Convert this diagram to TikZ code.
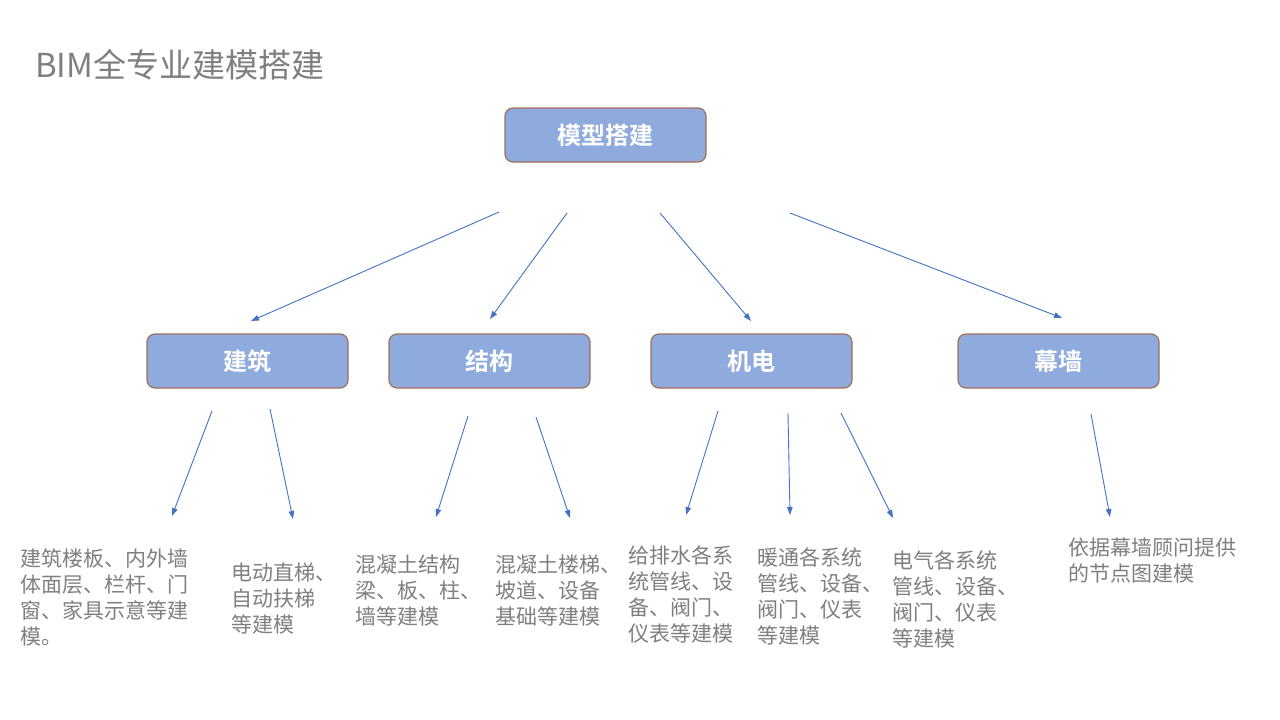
\documentclass[tikz,border=0pt]{standalone}
\usepackage{fontspec}
\setmainfont{Noto Sans CJK SC}
\newfontfamily\cjkbold{Noto Sans CJK SC Bold}
\usetikzlibrary{arrows.meta}
\definecolor{boxfill}{HTML}{8FAADC}
\definecolor{boxdraw}{HTML}{A0705A}
\definecolor{arrowblue}{HTML}{4472C4}
\definecolor{txtgray}{HTML}{7F7F7F}
\tikzset{
  mbox/.style={draw=boxdraw, line width=1.2pt, fill=boxfill, rounded corners=8pt,
    minimum width=201pt, minimum height=54pt, inner sep=0pt, text=white,
    font=\cjkbold\fontsize{24}{28}\selectfont},
  conn/.style={draw=arrowblue, line width=0.9pt, -{Triangle[length=8pt,width=5.5pt]}},
  desc/.style={anchor=base west, align=left, inner sep=0pt, text=txtgray,
    font=\fontsize{21}{26}\selectfont}
}
\begin{document}
\begin{tikzpicture}[x=1pt,y=-1pt]
\useasboundingbox (0,0) rectangle (1280,720);
\fill[white] (0,0) rectangle (1280,720);
\node[anchor=base west, inner sep=0pt, text=txtgray, font=\fontsize{33}{38}\selectfont] (title) at (35,77) {BIM全专业建模搭建};

\node[mbox] (top) at (605.5,135) {模型搭建};
\node[mbox] (jz) at (247.5,361) {建筑};
\node[mbox] (jg) at (489.5,361) {结构};
\node[mbox] (jd) at (751.5,361) {机电};
\node[mbox] (mq) at (1058.5,361) {幕墙};

% top level arrows
\coordinate (a1s) at (499,212); \coordinate (a1e) at (251,321);
\coordinate (a2s) at (567,213); \coordinate (a2e) at (490,319);
\coordinate (a3s) at (660,213); \coordinate (a3e) at (751,321);
\coordinate (a4s) at (790,213); \coordinate (a4e) at (1062,318);
\draw[conn] (a1s) -- (a1e);
\draw[conn] (a2s) -- (a2e);
\draw[conn] (a3s) -- (a3e);
\draw[conn] (a4s) -- (a4e);

% second level arrows
\coordinate (b1s) at (212,411); \coordinate (b1e) at (172,516);
\coordinate (b2s) at (270,409); \coordinate (b2e) at (293,519);
\coordinate (b3s) at (468,416); \coordinate (b3e) at (436,517);
\coordinate (b4s) at (536,417); \coordinate (b4e) at (570,518);
\coordinate (b5s) at (718,411); \coordinate (b5e) at (686,515);
\coordinate (b6s) at (788,413); \coordinate (b6e) at (790,515);
\coordinate (b7s) at (841,413); \coordinate (b7e) at (893,518);
\coordinate (b8s) at (1091,414); \coordinate (b8e) at (1110,517);
\foreach \i in {1,...,8} {\draw[conn] (b\i s) -- (b\i e);}

% anchor = baseline of the last line
\node[desc] (t1) at (20,644) {建筑楼板、内外墙\\体面层、栏杆、门\\窗、家具示意等建\\模。};
\node[desc] (t2) at (231,632) {电动直梯、\\自动扶梯\\等建模};
\node[desc] (t3) at (355,624) {混凝土结构\\梁、板、柱、\\墙等建模};
\node[desc] (t4) at (495,624) {混凝土楼梯、\\坡道、设备\\基础等建模};
\node[desc] (t5) at (628,641) {给排水各系\\统管线、设\\备、阀门、\\仪表等建模};
\node[desc] (t6) at (757,643) {暖通各系统\\管线、设备、\\阀门、仪表\\等建模};
\node[desc] (t7) at (892,646) {电气各系统\\管线、设备、\\阀门、仪表\\等建模};
\node[desc] (t8) at (1068,581) {依据幕墙顾问提供\\的节点图建模};
\end{tikzpicture}
\end{document}
